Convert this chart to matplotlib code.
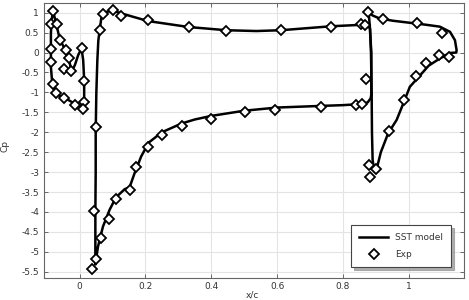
import matplotlib
matplotlib.use("Agg")
import matplotlib.pyplot as plt
import numpy as np

# --- SST model curves (x/c, Cp) ---
slat_x = [-0.080, -0.070, -0.060, -0.043, -0.032, -0.024, -0.014, -0.004, 0.006, 0.011, 0.014, 0.014, 0.011,
          -0.000, -0.014, -0.034, -0.055, -0.075, -0.083, -0.087, -0.087, -0.087, -0.085, -0.080]
slat_cp = [1.03, 0.69, 0.33, 0.06, -0.19, -0.48, -0.31, -0.06, 0.10, -0.19, -0.69, -1.19, -1.41,
           -1.35, -1.29, -1.19, -1.12, -0.98, -0.77, -0.36, 0.00, 0.48, 0.82, 1.03]

main_x = [0.886, 0.884, 0.875, 0.860, 0.800, 0.730, 0.600, 0.500, 0.400, 0.350, 0.310, 0.250, 0.210, 0.187,
          0.167, 0.152, 0.137, 0.111, 0.091, 0.071, 0.056, 0.050, 0.048, 0.048, 0.048, 0.049, 0.049, 0.051,
          0.054, 0.057, 0.061, 0.066, 0.081, 0.101, 0.132, 0.208, 0.332, 0.446, 0.537, 0.611, 0.765, 0.841,
          0.871, 0.882, 0.886, 0.886]
main_cp = [-1.05, -1.15, -1.25, -1.29, -1.32, -1.34, -1.38, -1.46, -1.59, -1.68, -1.78, -2.00, -2.26, -2.61,
           -3.03, -3.38, -3.43, -3.63, -3.95, -4.37, -4.87, -5.20, -5.32, -5.00, -4.00, -3.00, -2.00, -1.00,
           -0.20, 0.30, 0.56, 0.86, 1.02, 1.05, 0.97, 0.79, 0.64, 0.56, 0.54, 0.56, 0.66, 0.69,
           0.74, 0.60, 0.00, -1.05]

flap_x = [0.878, 0.890, 0.910, 0.950, 1.000, 1.050, 1.094, 1.125, 1.140, 1.145, 1.144, 1.125, 1.094, 1.060,
          1.044, 1.003, 0.983, 0.963, 0.937, 0.915, 0.902, 0.895, 0.890, 0.888, 0.887, 0.885, 0.882, 0.878]
flap_cp = [1.01, 0.93, 0.86, 0.80, 0.75, 0.70, 0.65, 0.52, 0.31, 0.06, 0.00, -0.01, -0.15, -0.33,
           -0.48, -0.86, -1.28, -1.69, -2.03, -2.50, -2.93, -2.95, -2.70, -2.00, -1.00, 0.00, 0.60, 1.01]

# --- Experimental points ---
exp_x = [-0.080, -0.087, -0.070, -0.060, -0.087, -0.040, -0.031, -0.087, -0.047, -0.026, 0.006, 0.014,
         -0.080, -0.073, -0.047, -0.014, 0.014, 0.011,
         0.0486, 0.0435, 0.0507, 0.0385, 0.066, 0.089, 0.111, 0.154, 0.172, 0.208, 0.251, 0.312, 0.398,
         0.502, 0.595, 0.732, 0.839, 0.858,
         0.061, 0.071, 0.101, 0.127, 0.208, 0.332, 0.446, 0.611, 0.765, 0.856, 0.867,
         0.877, 0.922, 1.025, 1.102, 1.123, 1.091, 1.051, 1.022, 0.985, 0.939, 0.900, 0.879, 0.881, 0.870]
exp_cp = [1.05, 0.715, 0.715, 0.32, 0.08, 0.06, -0.13, -0.23, -0.42, -0.46, 0.12, -0.71,
          -0.79, -1.01, -1.15, -1.32, -1.23, -1.41,
          -1.86, -3.97, -5.19, -5.44, -4.65, -4.19, -3.68, -3.45, -2.88, -2.36, -2.06, -1.84, -1.67,
          -1.50, -1.43, -1.36, -1.32, -1.29,
          0.565, 0.97, 1.08, 0.92, 0.82, 0.65, 0.55, 0.565, 0.65, 0.725, 0.70,
          1.02, 0.84, 0.75, 0.50, -0.12, -0.06, -0.27, -0.60, -1.18, -1.97, -2.93, -2.82, -3.13, -0.67]

xticks = [0, 0.2, 0.4, 0.6, 0.8, 1]
yticks = [1, 0.5, 0, -0.5, -1, -1.5, -2, -2.5, -3, -3.5, -4, -4.5, -5, -5.5]

fig = plt.figure(figsize=(4.69, 3.0), dpi=100)
ax = fig.add_axes([0.0938, 0.0723, 0.8952, 0.9167])

lw = 1.8
ax.plot(slat_x, slat_cp, color='black', lw=lw, label='SST model', zorder=3)
ax.plot(main_x, main_cp, color='black', lw=lw, zorder=3)
ax.plot(flap_x, flap_cp, color='black', lw=lw, zorder=3)
ax.plot(exp_x, exp_cp, linestyle='none', marker='D', markersize=5.5, markerfacecolor='white',
        markeredgecolor='black', markeredgewidth=1.3, label='Exp', zorder=4)

ax.set_xlim(-0.108, 1.167)
ax.set_ylim(-5.666, 1.236)
ax.set_xticks(xticks)
ax.set_xticklabels([f"{t:g}" for t in xticks])
ax.set_yticks(yticks)
ax.set_yticklabels([f"{t:g}" for t in yticks])
ax.grid(True, color='#e4e4e4', lw=0.8, zorder=0)
ax.set_axisbelow(True)
ax.tick_params(direction='in', length=3, width=0.6, colors='#555555', labelsize=6.5,
               top=True, right=True, labelcolor='#333333')
ax.tick_params(axis='x', pad=2.5)
for s in ax.spines.values():
    s.set_color('#666666')
    s.set_linewidth(0.8)

ax.set_xlabel('x/c', fontsize=6.5, color='#333333', labelpad=0)
ax.xaxis.set_label_coords(0.497, -0.045)
ax.set_ylabel('Cp', fontsize=6.5, color='#333333')
ax.yaxis.set_label_coords(-0.083, 0.48)

leg = ax.legend(loc='lower right', bbox_to_anchor=(0.981, 0.023), fontsize=6.5, frameon=True,
                fancybox=False, shadow={'color': '#9a9a9a', 'alpha': 0.8}, edgecolor='#444444',
                handlelength=3.2, borderpad=0.9, labelspacing=0.9)
leg.get_frame().set_linewidth(0.8)
for t in leg.get_texts():
    t.set_color('#333333')

fig.savefig('out.png', dpi=100)
